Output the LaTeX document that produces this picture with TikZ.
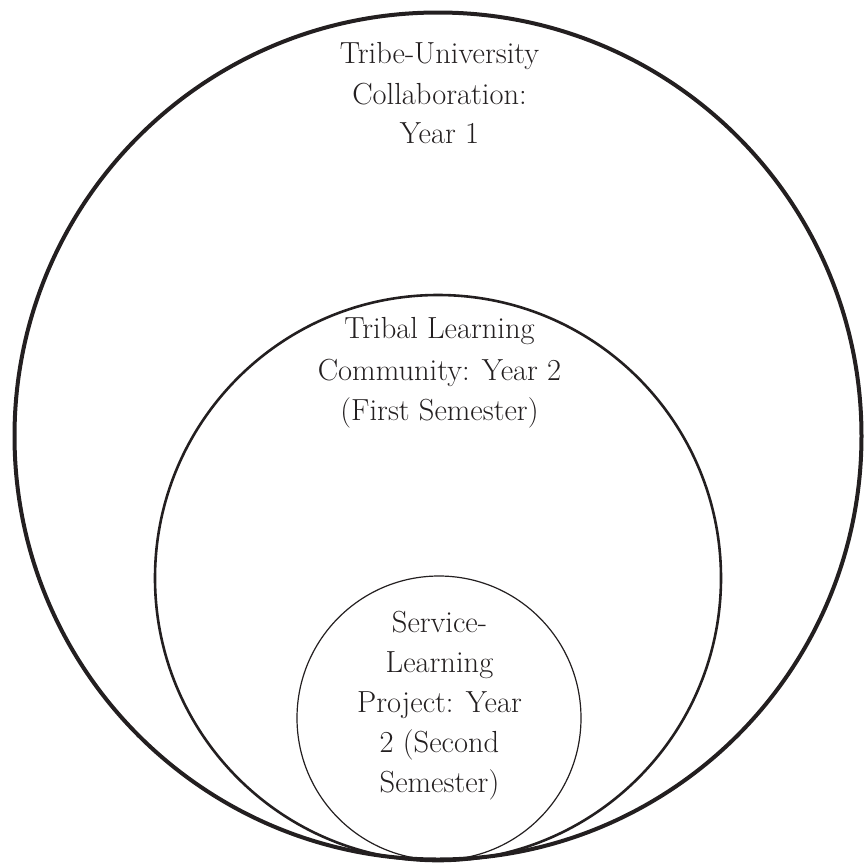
\documentclass[tikz,border=0pt]{standalone}
\usepackage{tikz}
\definecolor{ink}{RGB}{35,31,32}
\begin{document}
\begin{tikzpicture}[x=1pt,y=-1pt,
  ring/.style={draw=ink, circle, inner sep=0pt, outer sep=0pt},
  lbl/.style={anchor=base, inner sep=0pt, text=ink, font=\fontsize{30.5}{36}\selectfont}]
\useasboundingbox (0,0) rectangle (865,863);
\node[ring, line width=4pt, minimum size=847pt] (outer) at (438,436) {};
\node[ring, line width=2.6pt, minimum size=566pt] (middle) at (438,578) {};
\node[ring, line width=1.2pt, minimum size=284pt] (inner) at (439,718) {};
% outer labels
\node[lbl] (o1) at (439.5,63) {Tribe-University};
\node[lbl] (o2) at (439.5,104) {Collaboration:};
\node[lbl] (o3) at (439.5,143) {Year 1};
% middle labels
\node[lbl] (m1) at (439.5,338) {Tribal Learning};
\node[lbl] (m2) at (439.5,380) {Community: Year 2};
\node[lbl] (m3) at (439.5,420) {(First Semester)};
% inner labels
\node[lbl] (i1) at (439.5,632) {Service-};
\node[lbl] (i2) at (439.5,672) {Learning};
\node[lbl] (i3) at (439.5,712) {Project: Year};
\node[lbl] (i4) at (439.5,752) {2 (Second};
\node[lbl] (i5) at (439.5,792) {Semester)};
\end{tikzpicture}
\end{document}
